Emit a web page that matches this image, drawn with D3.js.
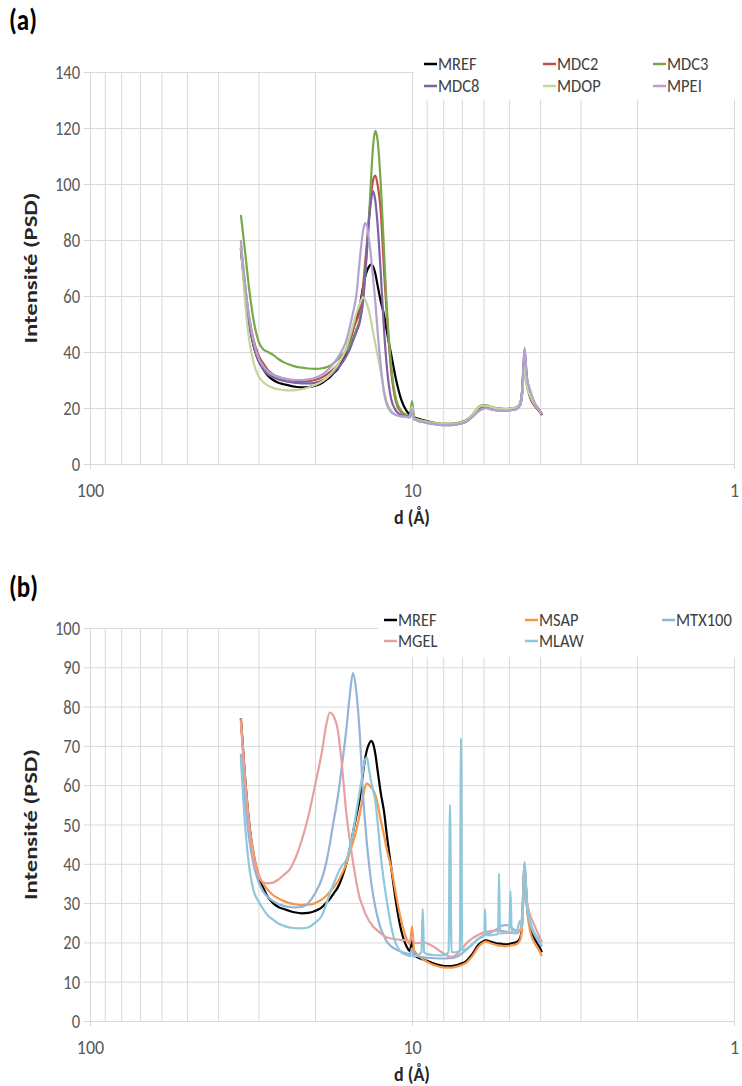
<!DOCTYPE html>
<html><head><meta charset="utf-8">
<script src="https://cdn.jsdelivr.net/npm/d3@7"></script>
<style>
body{margin:0;background:#fff}
svg{display:block}
text{font-family: Carlito, Lato, "Open Sans", sans-serif;}
</style>
</head><body><svg id="c" width="742" height="1086"></svg>
<script>
// d-spacing grid (Å), shared by all series
const dSpacing = [34,33,32,31,30,29,28,27,26,25,24,23,22,21,20,19,18.5,18,17.5,17,16.5,16,15.6,15.25,14.9,14.5,14.2,14.0,13.8,13.6,13.4,13.2,13.0,12.8,12.5,12.2,12.0,11.6,11.2,10.8,10.4,10.15,10.0,9.85,9.6,9.35,9.26,9.17,9.0,8.6,8.2,7.9,7.7,7.62,7.54,7.3,7.1,7.045,6.99,6.8,6.5,6.2,6.0,5.96,5.93,5.90,5.7,5.5,5.40,5.367,5.33,5.15,4.99,4.944,4.90,4.75,4.62,4.55,4.47,4.40,4.3,4.2,4.1,4.0,3.95];

// Panel (a) series
const mref = [77,62,50,42,37,34,31.5,30,29,28.5, 28,27.6,27.4,27.5,28,29,30,31,32.5,34, 36.5,40,44,48,52,57,63,66.5,69,70.5, 71.3,70.5,68,64,58,53,48,39,30,23, 19,17.8,20.5,16.8,16.2,15.8,15.7,15.6,15.3,14.7, 14.2,14,14,14,14,14.2,14.5,14.6,14.7,15.2, 17,19.5,20.3,20.4,20.5,20.5,20.2,19.8,19.7,19.7, 19.7,19.5,19.6,19.7,19.8,20,21,25,39,30, 24,21.5,20,18.5,17.5];
const mdc2 = [78,64,52,44,39,36,33.5,32,31,30.5, 30,29.7,29.5,29.6,30,31,31.8,32.8,34,35.5, 37.5,40.5,44,48,51,55,63,71,79,88, 96,101.5,103,100,90,68,55,33,22,18.5, 17.2,16.8,20,16.2,15.7,15.3,15.2,15.1,14.9,14.5, 14.1,14,14,14,14,14.2,14.5,14.6,14.7,15.2, 17,19.5,20.3,20.4,20.5,20.5,20.2,19.8,19.6,19.6, 19.6,19.5,19.6,19.7,19.8,20,21.5,26,38,29, 24,21.5,20,18.5,17.5];
const mdc3 = [89,76,62,51,44,41,40,39,37.5,36.3, 35.5,34.8,34.4,34.1,34,34.2,34.5,35,36,37.3, 39,40.5,42.5,45,48,52,58,66,76,88, 102,114,119,116,100,75,58,35,23,19, 17.5,17,22.5,16.5,16,15.6,15.5,15.4,15.2,14.8, 14.5,14.4,14.4,14.4,14.4,14.6,14.9,15,15.1,15.6, 17.5,20.5,21,21,21,21,20.5,20,19.8,19.8, 19.8,19.7,19.8,19.9,20,20.2,21.5,25,36,28, 24.5,22,20.5,19,18];
const mdc8 = [77,62,50,42,37,34,32,31,30.2,29.7, 29.3,29,28.8,28.8,29,29.8,30.5,31.5,32.8,34.3, 36,38.5,41,44,47,51,58,67,77,87, 94,97.5,94,86,68,47,36,23,19,17.5, 17,16.8,19.5,16,15.5,15.1,15,14.9,14.7,14.3, 14,13.9,13.9,13.9,13.9,14.1,14.4,14.5,14.6,15.1, 16.8,19,19.8,19.9,20,20,19.6,19.2,19.1,19.1, 19.1,19,19.1,19.2,19.3,19.6,21,26,41,31, 26,22.5,20.5,18.8,18];
const mdop = [79,58,44,36,31.5,29.3,28,27.2,26.7,26.4, 26.3,26.4,26.7,27.3,28.2,29.5,30.5,31.8,33.5,35.5, 38,41.5,45.5,49.5,53.5,57.5,59.5,58.8,57,54.5, 51,47,43,39,33,26,22.5,19,17.5,17, 16.8,16.6,20.5,16.2,15.8,15.4,15.3,15.2,15,14.6, 14.3,14.2,14.2,14.2,14.2,14.4,14.7,14.8,14.9,15.4, 17.3,20.3,20.8,20.8,20.8,20.8,20.4,19.9,19.7,19.7, 19.7,19.6,19.7,19.8,19.9,20.1,21.3,25,35,28, 24.5,22,20.3,18.8,17.8];
const mpei = [80,64,52,43.5,38,35,33,32,31.2,30.6, 30.2,30,30,30.2,30.8,32,33,34.3,36,38, 40.5,44,49,54,60,74,83,86,85,80, 74,66,58,48,35,25,21.5,18.5,17.5,17, 16.8,16.6,19.5,16,15.5,15.1,15,14.9,14.7,14.3, 14,13.9,13.9,13.9,13.9,14.1,14.4,14.5,14.6,15.1, 16.8,19,19.8,19.9,20,20,19.6,19.2,19.1,19.1, 19.1,19,19.1,19.2,19.3,19.6,21,26.5,41.5,31, 26.5,23,20.5,18.8,18];

// Panel (b) series
const msap = [77,62,50,42.5,37.5,35,33.3,32,31.2,30.5, 30,29.7,29.5,29.6,30,31,31.8,32.8,34,35.5, 37.5,40,43,45.5,48.5,53,57,59.5,60.5,60, 59.5,58.8,57.5,55.5,51,47,44,39,32,25.5, 21,19.5,24,18,16.8,16,15.7,15.5,15.1,14.3, 13.8,13.6,13.6,13.6,13.6,13.8,14.1,14.2,14.3,14.8, 16.5,19,20,20.1,20.2,20.2,19.8,19.4,19.2,19.2, 19.2,19,19.1,19.2,19.3,19.5,20.5,24,38,29, 23,20.5,19,17.5,16.5];
const mtx100 = [68,56,46,39.5,35.5,33,31.5,30.5,29.8,29.3, 29,28.9,29,30,32.5,36.5,40,45,51,57, 65,74,83,88.5,84,72,58,51,45,40, 35.5,32,29,26.5,23.5,21.5,20.3,19,18.2,17.6, 17.2,17,18.5,16.8,16.5,16.3,16.3,16.2,16.1,16, 15.9,15.9,16,16,16,16.3,16.8,17,17.2,18, 19.5,21,21.8,22,22,22,22.5,23.2,23.6,23.8, 24,24.4,24.3,24,23.7,23,23,26,40,30, 25,22.5,21,19.5,19];
const mgel = [76,61,49,41,37,35.3,35,35.2,36,37.2, 38.5,41.5,46,52,60,69,75,78.5,77.5,74, 65,53,46,40.5,35.5,31,29,27.5,26.5,25.5, 24.8,24,23.5,23,22.3,21.7,21.3,21,20.8,20.6, 20.5,20.3,21.5,20,19.8,19.9,20,20,19.8,19, 17.8,17,16.5,16.3,16.3,16.8,17.8,18.2,18.5,19.6, 21,22,22.5,22.6,22.7,22.7,22.9,23,23,23, 23,22.8,22.5,22.4,22.4,22.3,23,27,40,31, 27,25,23,21,20];
const mlaw = [67,50,39,33,30.5,28.5,26.8,25.8,24.8,24.2, 23.8,23.6,23.6,23.8,25,27,29.5,32.5,35,37.5, 39.5,41,44,48,53,59,63.5,66.5,67,64, 61,58.5,56,51,42,35,31,24,19.5,17.5, 16.8,16.5,16.8,16.3,16.8,17.5,28.5,17.5,17,16.8, 16.7,16.8,17.5,55,17.5,17.5,18,72,18,18.3, 19.5,21,21.5,22,28.5,22,21.8,22,22.2,37.5, 22.3,22.4,22.5,33,22.6,22.5,25.5,24,40.5,30, 25.5,23,21.5,20,19];

const namesA = ["MREF","MDC2","MDC3","MDC8","MDOP","MPEI"];
const colorsA = ["#000000","#c0504d","#79a84a","#7d62a6","#c3d69b","#b3a2d0"];
const namesB = ["MREF","MSAP","MTX100","MGEL","MLAW"];
const colorsB = ["#000000","#f79646","#95b3d7","#e6a0a0","#8ec8da"];

const xTickValues = [100, 10, 1];
const xGridValues = [100,90,80,70,60,50,40,30,20,10,9,8,7,6,5,4,3,2,1];
const yTicksA = [0,20,40,60,80,100,120,140];
const yTicksB = [0,10,20,30,40,50,60,70,80,90,100];

const svg = d3.select("#c");
const LEFT = 90, RIGHT = 734;
const VS = 1.2; // vertical stretch of horizontal text in the reference

function panel(cfg){
  const g = svg.append("g");
  const x = d3.scaleLog().domain([100,1]).range([LEFT,RIGHT]);
  const y = d3.scaleLinear().domain([0, cfg.yMax]).range([cfg.bottom, cfg.top]);

  // vertical gridlines
  const xg = g.append("g").attr("transform",`translate(0,${cfg.bottom})`)
    .call(d3.axisBottom(x).tickValues(xGridValues).tickSize(-(cfg.bottom-cfg.top)).tickFormat(""));
  xg.select(".domain").remove();
  xg.selectAll("line").attr("stroke","#d9d9d9").attr("stroke-width",1);

  // horizontal gridlines + y labels
  const yg = g.append("g").attr("transform",`translate(${LEFT},0)`)
    .call(d3.axisLeft(y).tickValues(cfg.yTicks).tickSize(-(RIGHT-LEFT)).tickPadding(10));
  yg.select(".domain").remove();
  yg.selectAll("line").attr("x1",-6).attr("stroke","#d9d9d9").attr("stroke-width",1);
  yg.selectAll("text").attr("fill","#595959").style("font-size","16.5px")
    .attr("x",-10).attr("dy",null).attr("y",0)
    .attr("transform",`scale(1,${VS})`).attr("dominant-baseline","central");

  // x axis labels
  const xa = g.append("g").attr("transform",`translate(0,${cfg.bottom})`)
    .call(d3.axisBottom(x).tickValues(xTickValues).tickSize(5).tickPadding(10).tickFormat(d3.format("d")));
  xa.select(".domain").remove();
  xa.selectAll("line").attr("stroke","#d9d9d9");
  xa.selectAll("text").attr("fill","#595959").style("font-size","18px")
    .attr("y",0).attr("dy",null).attr("dominant-baseline","central")
    .attr("transform",`translate(0,26) scale(1,1.1)`);

  // curves
  const line = d3.line().x((d,i)=>x(dSpacing[i])).y(d=>y(d)).curve(d3.curveMonotoneX);
  cfg.series.forEach((s,k)=>{
    g.append("path").datum(s).attr("d",line).attr("fill","none")
      .attr("stroke",cfg.colors[k]).attr("stroke-width",2.2).attr("stroke-linejoin","round");
  });

  // legend
  g.append("rect").attr("x",cfg.legRect[0]).attr("y",cfg.legRect[1]).attr("width",cfg.legRect[2]).attr("height",cfg.legRect[3]).attr("fill","#fff");
  cfg.names.forEach((n,k)=>{
    const cx = cfg.legCols[k%3], cy = cfg.legRows[Math.floor(k/3)];
    g.append("line").attr("x1",cx).attr("x2",cx+13).attr("y1",cy).attr("y2",cy)
      .attr("stroke",cfg.colors[k]).attr("stroke-width",2.5);
    g.append("text").attr("transform",`translate(${cx+14},${cy}) scale(1,1.08)`)
      .attr("dominant-baseline","central")
      .attr("fill","#404040").style("font-size","16.5px").text(n);
  });

  // titles
  g.append("text").attr("transform",`translate(9,${cfg.labelY}) scale(1,${VS})`).attr("dominant-baseline","central")
    .style("font-size","25px").style("font-weight","bold").attr("fill","#000").text(cfg.label);
  g.append("text").attr("transform",`translate(${(LEFT+RIGHT)/2},${cfg.bottom+53}) scale(1,1.08)`).attr("text-anchor","middle")
    .attr("dominant-baseline","central")
    .style("font-size","18px").style("font-weight","bold").attr("fill","#262626").text("d (Å)");
  g.append("text").attr("transform",`translate(31,${(cfg.top+cfg.bottom)/2}) rotate(-90) scale(1.45,1)`).attr("text-anchor","middle")
    .attr("dominant-baseline","central")
    .style("font-size","17px").style("font-weight","bold").attr("fill","#262626").text("Intensité (PSD)");
}

panel({top:72,bottom:464,yMax:140,yTicks:yTicksA,series:[mref,mdc2,mdc3,mdc8,mdop,mpei],names:namesA,colors:colorsA,
  label:"(a)",labelY:20,legRect:[414,48,328,52],legCols:[424,543,653],legRows:[64,86]});
panel({top:628,bottom:1021,yMax:100,yTicks:yTicksB,series:[mref,msap,mtx100,mgel,mlaw],names:namesB,colors:colorsB,
  label:"(b)",labelY:587,legRect:[378,604,364,53],legCols:[384,525,662],legRows:[620,641]});
</script></body></html>
